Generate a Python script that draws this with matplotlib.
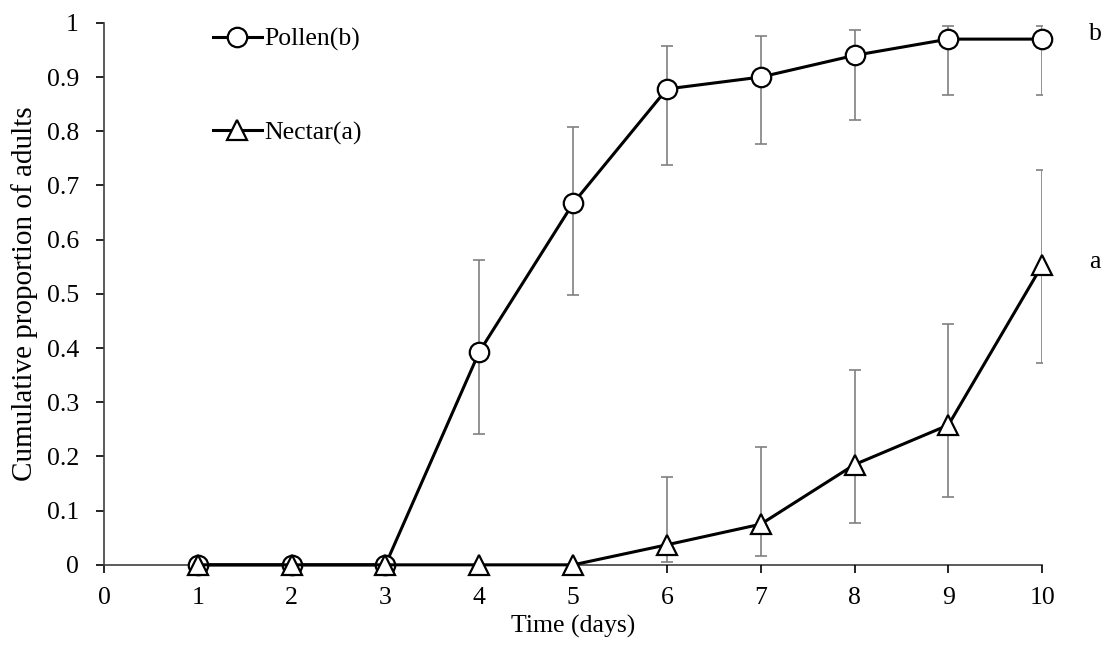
import numpy as np
import matplotlib.pyplot as plt

plt.rcParams['font.family'] = ['Liberation Serif', 'DejaVu Serif']

days = [1, 2, 3, 4, 5, 6, 7, 8, 9, 10]

pollen = [0, 0, 0, 0.393, 0.667, 0.878, 0.900, 0.940, 0.970, 0.970]
pollen_hi = [0, 0, 0, 0.563, 0.808, 0.958, 0.975, 0.986, 0.995, 0.995]
pollen_lo = [0, 0, 0, 0.242, 0.497, 0.737, 0.776, 0.821, 0.867, 0.867]

nectar = [0, 0, 0, 0, 0, 0.037, 0.075, 0.185, 0.258, 0.553]
nectar_hi = [0, 0, 0, 0, 0, 0.162, 0.217, 0.360, 0.444, 0.729]
nectar_lo = [0, 0, 0, 0, 0, 0.005, 0.016, 0.077, 0.125, 0.373]

fs = 18.5

fig = plt.figure(figsize=(11.11, 6.53), dpi=100)
ax = fig.add_axes([0.0936, 0.135, 0.8445, 0.83])

def draw(y, hi, lo, marker, label, z):
    x = np.array(days)
    y = np.array(y); hi = np.array(hi); lo = np.array(lo)
    m = (hi - lo) > 0
    ax.errorbar(x[m], y[m], yerr=[y[m] - lo[m], hi[m] - y[m]], fmt='none',
                ecolor='#808080', elinewidth=1.2, capsize=4, capthick=1.2, zorder=z)
    ax.plot(x, y, color='black', lw=2.2, marker=marker, markersize=14,
            markerfacecolor='white', markeredgecolor='black', markeredgewidth=1.6,
            label=label, zorder=z + 1, clip_on=False)

draw(pollen, pollen_hi, pollen_lo, 'o', 'Pollen(b)', 2)
draw(nectar, nectar_hi, nectar_lo, '^', 'Nectar(a)', 4)

# significance letters
ax.text(10.5, pollen[-1] + 0.01, 'b', fontsize=fs, va='center', ha='left')
ax.text(10.5, nectar[-1] + 0.005, 'a', fontsize=fs, va='center', ha='left')

ax.set_xlim(0, 10)
ax.set_ylim(0, 1)
ax.set_xticks(range(0, 11))
yt = np.round(np.arange(0, 1.01, 0.1), 1)
ax.set_yticks(yt)
ax.set_yticklabels(['0' if v == 0 else ('1' if v == 1 else f'{v:g}') for v in yt])
ax.tick_params(labelsize=fs, direction='out', length=6, width=1.2, colors='black')
ax.tick_params(axis='x', pad=10)
ax.tick_params(axis='y', pad=12)
for s in ['top', 'right']:
    ax.spines[s].set_visible(False)
for s in ['left', 'bottom']:
    ax.spines[s].set_linewidth(1.2)
    ax.spines[s].set_color('#404040')
ax.spines['bottom'].set_zorder(1)

ax.set_xlabel('Time (days)', fontsize=fs, labelpad=4)
ax.set_ylabel('Cumulative proportion of adults', fontsize=21, labelpad=6)

ax.legend(loc='upper left', bbox_to_anchor=(0.1917, 0.957), bbox_transform=fig.transFigure,
          frameon=False, fontsize=fs, handlelength=1.9, handletextpad=0.1,
          labelspacing=2.72, borderaxespad=0, borderpad=0)

fig.savefig('out.png', dpi=100)
